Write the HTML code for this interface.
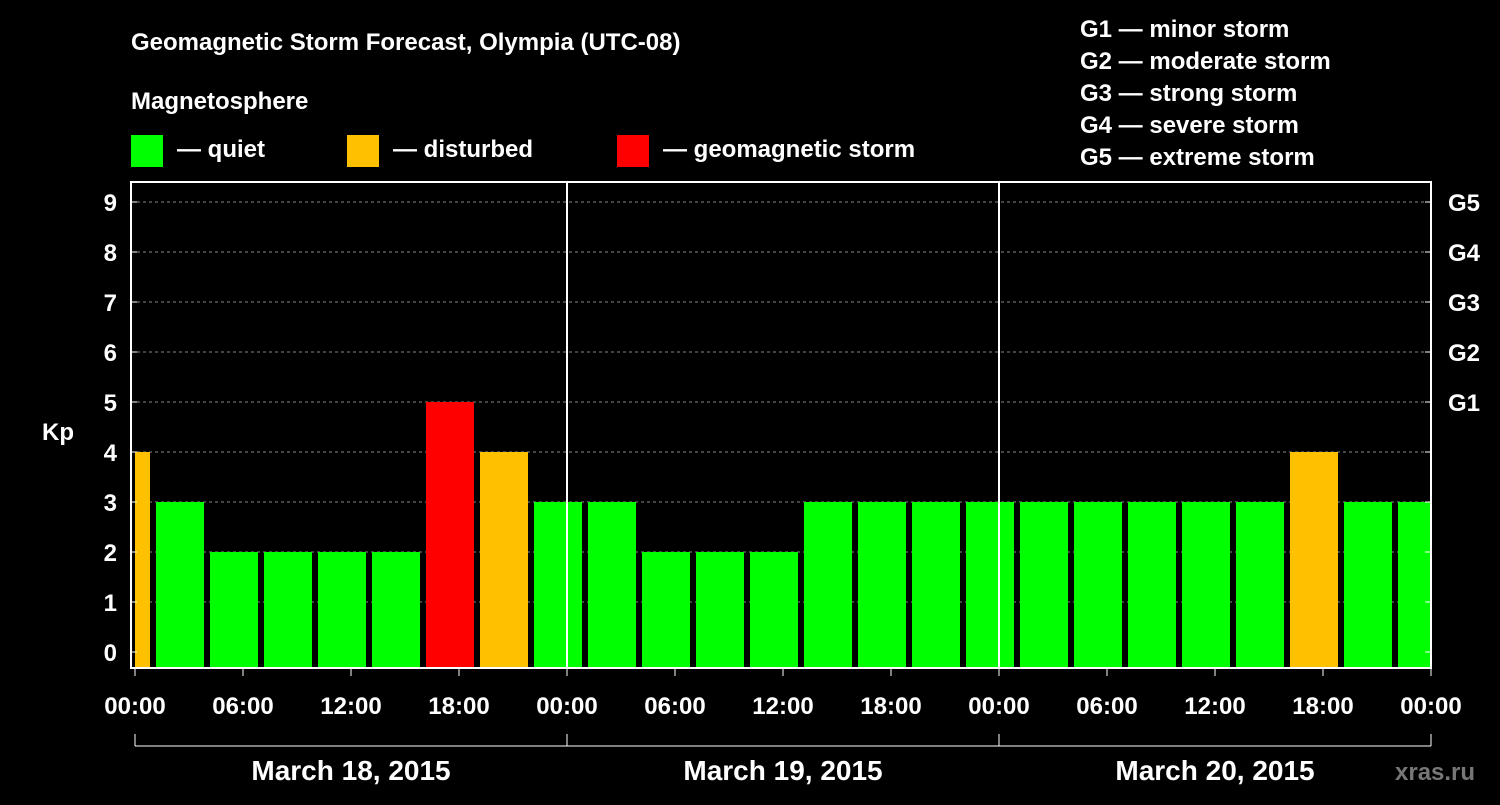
<!DOCTYPE html>
<html><head><meta charset="utf-8"><style>
body{margin:0;background:#000;width:1500px;height:800px;overflow:hidden;font-family:"Liberation Sans",Arial,sans-serif}
svg text{font-family:"Liberation Sans",Arial,sans-serif;font-weight:bold;fill:#fff}
</style></head><body>
<svg id="chart" width="1500" height="800">
<text x="131" y="50" font-size="24">Geomagnetic Storm Forecast, Olympia (UTC-08)</text>
<text x="131" y="109" font-size="24">Magnetosphere</text>
<g><rect x="131" y="135" width="32" height="32" fill="#00ff00"/><text x="177" y="157" font-size="24">— quiet</text></g>
<g><rect x="347" y="135" width="32" height="32" fill="#ffc000"/><text x="393" y="157" font-size="24">— disturbed</text></g>
<g><rect x="617" y="135" width="32" height="32" fill="#ff0000"/><text x="663" y="157" font-size="24">— geomagnetic storm</text></g>
<g font-size="24">
<text x="1080" y="37">G1 — minor storm</text>
<text x="1080" y="69">G2 — moderate storm</text>
<text x="1080" y="101">G3 — strong storm</text>
<text x="1080" y="133">G4 — severe storm</text>
<text x="1080" y="165">G5 — extreme storm</text>
</g>
<text x="42" y="440" font-size="24">Kp</text>
<text x="1395" y="780" font-size="24" style="fill:#777">xras.ru</text>
<g id="grid"></g><g id="bars"></g><g id="axes"></g>
</svg>
<script>
const kpValues=[4,3,2,2,2,2,5,4,3,3,2,2,2,3,3,3,3,3,3,3,3,3,4,3,3];
const yTicks=[0,1,2,3,4,5,6,7,8,9];
const gLabels=["G1","G2","G3","G4","G5"];
const xTickLabels=["00:00","06:00","12:00","18:00","00:00","06:00","12:00","18:00","00:00","06:00","12:00","18:00","00:00"];
const dayLabels=["March 18, 2015","March 19, 2015","March 20, 2015"];
const NS="http://www.w3.org/2000/svg";
const L=131,R=1431,T=182,B=668,X0=135;
const xh=h=>X0+h*18; const y=v=>652-v*50;
function mk(t,a,p){const e=document.createElementNS(NS,t);for(const k in a)e.setAttribute(k,a[k]);p.appendChild(e);return e;}
const grid=document.getElementById('grid'),bars=document.getElementById('bars'),axes=document.getElementById('axes');
yTicks.forEach(v=>{if(v>0){const l=mk('line',{x1:L,x2:R,y1:y(v),y2:y(v),stroke:'#888','stroke-dasharray':'3,3'},grid);

}
const t=mk('text',{x:117,y:y(v)+9,'font-size':24,'text-anchor':'end'},axes);t.textContent=v;


mk('line',{x1:L,x2:L+6,y1:y(v),y2:y(v),stroke:'#fff'},axes);
mk('line',{x1:R-6,x2:R,y1:y(v),y2:y(v),stroke:'#fff'},axes);});
gLabels.forEach((g,i)=>{const t=mk('text',{x:1448,y:y(5+i)+9,'font-size':24},axes);t.textContent=g;

});
kpValues.forEach((v,i)=>{const s=-2+3*i;let a=xh(s)+3,b=xh(s+3)-3;a=Math.max(a,X0);b=Math.min(b,R);
const c=v>=5?'#ff0000':v>=4?'#ffc000':'#00ff00';
const r=mk('rect',{x:a,y:y(v),width:b-a,height:B-y(v),fill:c},bars);

});
mk('rect',{x:L,y:T,width:R-L,height:B-T,fill:'none',stroke:'#fff','stroke-width':2},axes);
[1,2].forEach(d=>mk('line',{x1:xh(24*d),x2:xh(24*d),y1:T,y2:B,stroke:'#fff','stroke-width':2},axes));
xTickLabels.forEach((s,i)=>{const x=xh(6*i);mk('line',{x1:x,x2:x,y1:B,y2:B+8,stroke:'#fff'},axes);
const t=mk('text',{x:x,y:714,'font-size':24,'text-anchor':'middle'},axes);t.textContent=s;

});
mk('line',{x1:X0,x2:R,y1:746,y2:746,stroke:'#fff'},axes);
[0,1,2,3].forEach(d=>mk('line',{x1:xh(24*d),x2:xh(24*d),y1:734,y2:746,stroke:'#fff'},axes));
dayLabels.forEach((s,i)=>{const t=mk('text',{x:xh(24*i+12),y:780,'font-size':28,'text-anchor':'middle'},axes);t.textContent=s;

});
</script>
</body></html>
